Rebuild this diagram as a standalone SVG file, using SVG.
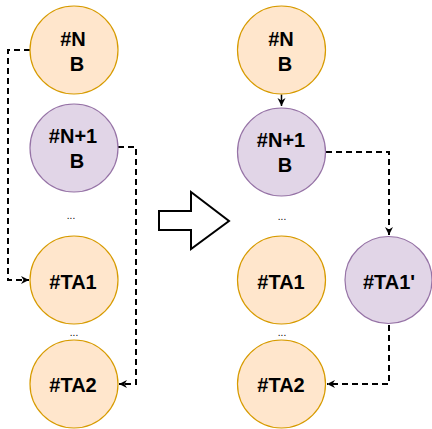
<svg xmlns="http://www.w3.org/2000/svg" width="432" height="429" viewBox="0 0 432 429">
<style>
.o{fill:#ffe6cc;stroke:#d79b00;stroke-width:1.2}
.p{fill:#e1d5e7;stroke:#9673a6;stroke-width:1.2}
.t{font-family:"Liberation Sans",Arial,sans-serif;font-weight:bold;font-size:20px;fill:#000;text-anchor:middle}
.d{font-family:"Liberation Sans",Arial,sans-serif;font-size:10px;fill:#000;text-anchor:middle}
.c{fill:none;stroke:#000;stroke-width:2;stroke-dasharray:6 4}
.s{fill:none;stroke:#000;stroke-width:1.5}
</style>
<defs>
<marker id="a" markerUnits="userSpaceOnUse" markerWidth="10" markerHeight="9" refX="8" refY="4" orient="auto">
<path d="M0,0 L8,4 L0,8 L2.5,4 z" fill="#000"/>
</marker>
</defs>
<g id="connectors">
<path class="c" d="M30,50 H8 V280 H29" marker-end="url(#a)"/>
<path class="c" d="M118,147 H136 V384 H119" marker-end="url(#a)"/>
<path class="s" d="M281.5,94.5 V106" marker-end="url(#a)"/>
<path class="c" d="M326,152 H389 V235" marker-end="url(#a)"/>
<path class="c" d="M389,325 V384 H327" marker-end="url(#a)"/>
</g>
<g id="bigarrow">
<polygon points="159,211 191,211 191,192 229,221 191,249 191,230 159,230" fill="#fff" stroke="#000" stroke-width="2"/>
</g>
<g id="L_N">
<circle class="o" cx="74" cy="50" r="44"/>
<text class="t" x="73" y="46">#N</text>
<text class="t" x="77" y="71">B</text>
</g>
<g id="L_N1">
<circle class="p" cx="74" cy="148" r="44"/>
<text class="t" x="73" y="143">#N+1</text>
<text class="t" x="77" y="168">B</text>
</g>
<g id="L_dots1"><text class="d" x="71" y="219">...</text></g>
<g id="L_TA1">
<circle class="o" cx="74" cy="280" r="44"/>
<text class="t" x="73" y="289">#TA1</text>
</g>
<g id="L_dots2"><text class="d" x="74" y="336">...</text></g>
<g id="L_TA2">
<circle class="o" cx="74" cy="384" r="44"/>
<text class="t" x="73" y="392">#TA2</text>
</g>
<g id="R_N">
<circle class="o" cx="281.5" cy="50" r="44"/>
<text class="t" x="281" y="46">#N</text>
<text class="t" x="285" y="71">B</text>
</g>
<g id="R_N1">
<circle class="p" cx="281.5" cy="152" r="44"/>
<text class="t" x="281" y="147">#N+1</text>
<text class="t" x="285" y="172">B</text>
</g>
<g id="R_dots1"><text class="d" x="282" y="220">...</text></g>
<g id="R_TA1">
<circle class="o" cx="281.5" cy="280" r="44"/>
<text class="t" x="281" y="289">#TA1</text>
</g>
<g id="R_TA1p">
<circle class="p" cx="388.5" cy="280" r="43.5"/>
<text class="t" x="389" y="289">#TA1'</text>
</g>
<g id="R_dots2"><text class="d" x="282" y="336">...</text></g>
<g id="R_TA2">
<circle class="o" cx="281.5" cy="384" r="44"/>
<text class="t" x="281" y="392">#TA2</text>
</g>
</svg>
